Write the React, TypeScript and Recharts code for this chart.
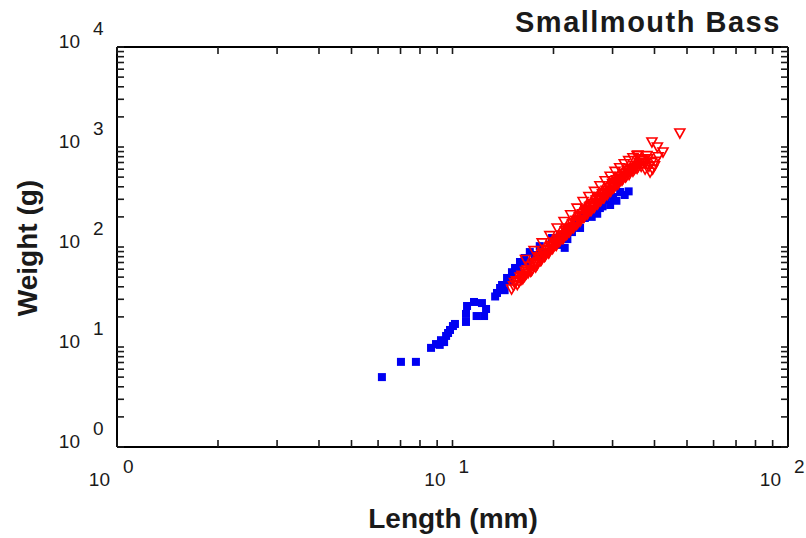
import { ScatterChart, Scatter, XAxis, YAxis } from "recharts";

// blue: filled squares
const blueLength = [
    6.16, 7.02, 7.78, 8.63, 8.93, 9.24, 9.16, 9.57, 9.83, 10.03, 9.7, 10.17, 9.44,
    10.97, 10.97, 11.05, 11.59, 12.24, 12.59, 12.42, 11.8,
    13.57, 14.05, 14.54, 15.04, 13.86, 15.36, 15.89, 16.4, 17.0, 18.2, 21.6, 17.6, 18.8,
    20.3, 22.7, 24.0, 25.7, 27.5, 28.5, 30.1, 31.6, 26.6, 24.8, 20.9, 19.8, 16.8, 15.7,
    14.8, 13.4, 14.3, 18.2, 20.9, 23.2, 29.5, 32.6, 24.0, 22.0, 26.0, 27.0, 28.0, 30.8, 33.5,
];
const blueWeight = [
    5.0, 7.1, 7.1, 9.8, 10.7, 11.7, 10.5, 12.9, 14.8, 16.2, 13.8, 17.0, 11.2,
    17.8, 21.4, 25.7, 28.2, 27.5, 24.0, 20.4, 20.4,
    34.7, 41.7, 49, 56, 38.9, 61.7, 70.8, 77.6, 89, 102, 98, 83, 89,
    117, 141, 155, 224, 245, 295, 316, 355, 234, 195, 132, 123, 71, 59,
    46, 32, 37, 83, 105, 166, 263, 331, 190, 120, 200, 215, 255, 290, 360,
];

// red: open down-triangles
const redLength = [
    15.0, 15.3, 15.6, 15.9, 16.2, 16.5, 16.8, 17.0, 17.3, 17.6, 17.9, 18.1, 18.4, 18.6,
    18.9, 19.1, 19.4, 19.6, 19.9, 20.1, 20.4, 20.6, 20.9, 21.1, 21.4, 21.7, 22.0, 22.2,
    22.5, 22.8, 23.0, 23.3, 23.6, 23.9, 24.1, 24.4, 24.7, 25.0, 25.3, 25.6, 25.9, 26.2,
    26.5, 26.8, 27.1, 27.4, 27.7, 28.0, 28.3, 28.7, 29.0, 29.3, 29.7, 30.0, 30.4, 30.8,
    31.2, 31.6, 32.0, 32.4, 32.8, 33.2, 33.6, 34.0, 34.5, 35.0, 35.5, 36.0, 36.5, 37.0,
    37.6, 38.2,
    16.0, 16.6, 17.2, 17.8, 18.3, 18.8, 19.3, 19.8, 20.3, 20.8, 21.3, 21.8, 22.3, 22.9,
    23.4, 24.0, 24.6, 25.2, 25.8, 26.4, 27.0, 27.6, 28.2, 28.9, 29.6, 30.2, 30.9, 31.5,
    32.2, 33.0, 33.8, 34.8, 35.8, 36.8, 37.5, 38.5, 39.2, 38.0, 36.5, 40.2, 41.0,
    39.5, 40.0, 38.8, 47.6, 39.3, 42.4, 35.7, 40.8,
    15.2, 15.5, 15.8, 16.1, 16.4, 16.7, 17.1, 17.4, 17.7, 18.0, 18.2, 18.5, 18.7, 19.0,
    19.2, 19.5, 19.7, 20.0, 20.2, 20.5, 20.7, 21.0, 21.2, 21.5, 21.9, 22.1, 22.4, 22.7,
    23.1, 23.5, 23.8, 24.2, 24.5, 24.9, 25.1, 25.5, 25.7, 26.0, 26.3, 26.7, 27.2, 27.5,
    27.9, 28.4, 28.6, 29.1, 29.5, 29.9, 30.6, 31.0, 31.4, 31.8, 32.6, 33.4, 34.2, 35.2,
    36.2, 36.9, 37.3,
    16.5, 17.5, 18.5, 19.5, 20.5, 21.5, 22.5, 23.5, 24.5, 25.5, 26.5, 27.5, 28.5, 29.5,
    30.5, 31.5, 32.5, 33.5, 34.5, 35.5,
];
const redWeight = [
    38, 44, 42, 50, 48, 57, 55, 64, 60, 70, 67, 80, 74, 85,
    82, 95, 88, 100, 97, 112, 104, 120, 115, 132, 122, 145, 136, 155,
    148, 170, 160, 185, 172, 200, 186, 215, 200, 235, 218, 250, 232, 270,
    252, 295, 272, 320, 295, 340, 312, 370, 340, 395, 370, 430, 400, 470,
    430, 505, 465, 545, 500, 580, 530, 610, 570, 650, 610, 690, 640, 730,
    690, 760,
    47, 54, 58, 68, 73, 80, 87, 96, 105, 114, 122, 132, 142, 155,
    168, 180, 198, 212, 232, 248, 268, 290, 310, 335, 360, 390, 420, 450,
    480, 515, 560, 600, 640, 680, 600, 640, 700, 820, 760, 720, 800,
    600, 650, 560, 1380, 1122, 891, 832, 1000,
    41, 46, 45, 52, 51, 59, 57, 66, 63, 72, 77, 78, 88, 86,
    92, 93, 104, 101, 109, 110, 118, 122, 128, 131, 141, 150, 152, 158,
    175, 180, 190, 205, 208, 222, 228, 240, 255, 258, 262, 280, 300, 305,
    318, 335, 350, 365, 380, 410, 440, 455, 480, 490, 525, 555, 590, 620,
    700, 740, 700,
    75, 92, 110, 130, 155, 180, 210, 245, 285, 320, 360, 410, 460, 510,
    570, 620, 680, 730, 780, 820,
];

const lengthTicks = [1, 2, 3, 4, 5, 6, 7, 8, 9, 10, 20, 30, 40, 50, 60, 70, 80, 90, 100];
const weightTicks = [
    1, 2, 3, 4, 5, 6, 7, 8, 9,
    10, 20, 30, 40, 50, 60, 70, 80, 90,
    100, 200, 300, 400, 500, 600, 700, 800, 900,
    1000, 2000, 3000, 4000, 5000, 6000, 7000, 8000, 9000,
    10000,
];

const blueData = blueLength.map((l, i) => ({ length: l, weight: blueWeight[i] }));
const redData = redLength.map((l, i) => ({ length: l, weight: redWeight[i] }));

const FONT = "'Liberation Sans', Arial, Helvetica, sans-serif";
const INK = "#1a1a1a";

function decade(v: number) {
    const e = Math.round(Math.log10(v));
    return Math.abs(Math.log10(v) - e) < 1e-9 ? e : null;
}

function makeTick(side: "bottom" | "top" | "left" | "right") {
    return (props: any) => {
        const { x, y, payload } = props;
        const exp = decade(payload.value);
        const len = 7;
        let line;
        if (side === "bottom") line = <line x1={x} y1={y} x2={x} y2={y - len} />;
        else if (side === "top") line = <line x1={x} y1={y} x2={x} y2={y + len} />;
        else if (side === "left") line = <line x1={x} y1={y} x2={x + len} y2={y} />;
        else line = <line x1={x} y1={y} x2={x - len} y2={y} />;
        return (
            <g>
                <g stroke={INK} strokeWidth={1.6}>{line}</g>
                {exp !== null && side === "bottom" && (
                    <g fontFamily={FONT} fontSize={19} fill={INK}>
                        <text x={x - 7} y={y + 39} textAnchor="end">10</text>
                        <text x={x + 6} y={y + 26} textAnchor="start">{exp}</text>
                    </g>
                )}
                {exp !== null && side === "left" && (
                    <g fontFamily={FONT} fontSize={19} fill={INK}>
                        <text x={x - 37} y={y + 1} textAnchor="end">10</text>
                        <text x={x - 24} y={y - 12} textAnchor="start">{exp}</text>
                    </g>
                )}
            </g>
        );
    };
}

const Square = (props: any) => (
    <rect x={props.cx - 4} y={props.cy - 4} width={8} height={8} fill="#0000f2" />
);

const Triangle = (props: any) => {
    const { cx, cy } = props;
    return (
        <polygon
            points={`${cx - 5},${cy - 4} ${cx + 5},${cy - 4} ${cx},${cy + 5}`}
            fill="none"
            stroke="#ff0000"
            strokeWidth={1.6}
        />
    );
};

const axisCommon = {
    type: "number" as const,
    scale: "log" as const,
    allowDataOverflow: true,
    interval: 0 as const,
    tickSize: 0,
    tickMargin: 0,
    tickLine: false,
    axisLine: { stroke: "#000", strokeWidth: 2 },
};

export default function App() {
    return (
        <div style={{ position: "absolute", left: 0, top: 0, width: 806, height: 538, background: "#fff" }}>
            <ScatterChart width={806} height={538} margin={{ top: 17, right: 8, bottom: 61, left: 57 }}>
                <XAxis
                    {...axisCommon}
                    xAxisId="b"
                    dataKey="length"
                    domain={[1, 100]}
                    ticks={lengthTicks}
                    height={30}
                    tick={makeTick("bottom")}
                />
                <XAxis
                    {...axisCommon}
                    xAxisId="t"
                    orientation="top"
                    dataKey="length"
                    domain={[1, 100]}
                    ticks={lengthTicks}
                    height={30}
                    tick={makeTick("top")}
                />
                <YAxis
                    {...axisCommon}
                    yAxisId="l"
                    dataKey="weight"
                    domain={[1, 10000]}
                    ticks={weightTicks}
                    width={60}
                    tick={makeTick("left")}
                />
                <YAxis
                    {...axisCommon}
                    yAxisId="r"
                    orientation="right"
                    dataKey="weight"
                    domain={[1, 10000]}
                    ticks={weightTicks}
                    width={10}
                    tick={makeTick("right")}
                />
                <Scatter xAxisId="b" yAxisId="l" data={blueData} shape={Square} isAnimationActive={false} />
                <Scatter xAxisId="b" yAxisId="l" data={redData} shape={Triangle} isAnimationActive={false} />
                <Scatter xAxisId="t" yAxisId="r" data={[]} isAnimationActive={false} />
            </ScatterChart>
            <svg width={806} height={538} style={{ position: "absolute", left: 0, top: 0, pointerEvents: "none" }}>
                <text x={515} y={32} fontFamily={FONT} fontSize={29} fontWeight="bold" letterSpacing={1.5} fill={INK}>
                    Smallmouth Bass
                </text>
                <text x={453} y={528} textAnchor="middle" fontFamily={FONT} fontSize={28} fontWeight="bold" fill={INK}>
                    Length (mm)
                </text>
                <text
                    x={37}
                    y={248}
                    textAnchor="middle"
                    transform="rotate(-90, 37, 248)"
                    fontFamily={FONT}
                    fontSize={28}
                    fontWeight="bold"
                    fill={INK}
                >
                    Weight (g)
                </text>
            </svg>
        </div>
    );
}
